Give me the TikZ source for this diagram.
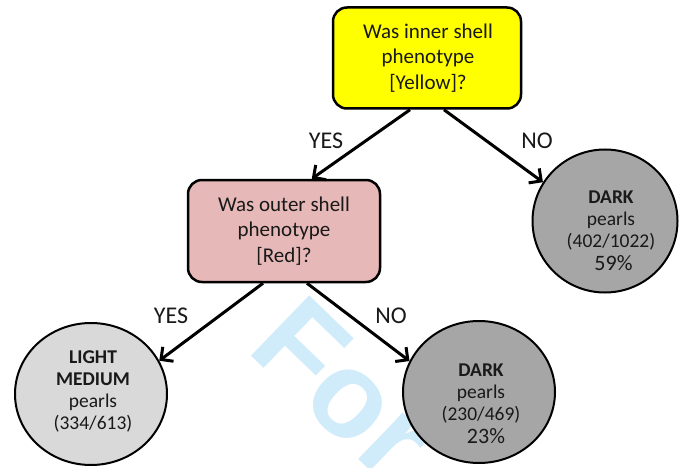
\documentclass[tikz,border=0pt]{standalone}
\usepackage{fontspec}
\setmainfont{Carlito}
\newfontfamily\wmfont{Liberation Sans}
\usetikzlibrary{arrows.meta,shapes.geometric}
\definecolor{boxyellow}{RGB}{255,255,0}
\definecolor{boxpink}{RGB}{230,184,183}
\definecolor{darkgrey}{RGB}{166,166,166}
\definecolor{lightgrey}{RGB}{217,217,217}
\definecolor{wmblue}{RGB}{208,236,250}
\definecolor{txt}{RGB}{25,25,25}
\tikzset{
  qbox/.style={draw=black, line width=2.5pt, rounded corners=14pt, minimum width=188pt, minimum height=101pt, inner sep=0pt},
  pearl/.style={draw=black, line width=2pt, ellipse, inner sep=0pt},
  qtext/.style={align=center, text=txt, font=\fontsize{21}{25.5}\selectfont},
  ptext/.style={align=center, text=txt, font=\fontsize{19.5}{22}\selectfont},
  lab/.style={text=txt, font=\fontsize{24}{26}\selectfont},
  conn/.style={line width=3pt, -{Straight Barb[length=9pt,width=18pt,line width=3pt]}},
}
\begin{document}
\begin{tikzpicture}[x=1pt,y=-1pt]
\useasboundingbox (0,0) rectangle (680,468);
\fill[white] (0,0) rectangle (680,468);
% watermark
\node[anchor=base west, rotate=-44, text=wmblue, inner sep=0pt, font=\wmfont\bfseries\fontsize{122}{122}\selectfont] (wm) at (245,350) {For};
% boxes
\node[qbox, fill=boxyellow] (yel) at (427,58) {};
\node[qtext] (yeltxt) at (428,58) {Was inner shell\\phenotype\\{}[Yellow]?};
\node[qbox, fill=boxpink, minimum width=192pt, minimum height=102pt] (pink) at (284,231) {};
\node[qtext] (pinktxt) at (284,231) {Was outer shell\\phenotype\\{}[Red]?};
% pearls
\node[pearl, fill=darkgrey, minimum width=145pt, minimum height=143pt] (rc) at (605,221) {};
\node[pearl, fill=lightgrey, minimum width=152pt, minimum height=142pt] (lc) at (91,394) {};
\node[pearl, fill=darkgrey, minimum width=152pt, minimum height=142pt] (mc) at (479,392) {};
\node[ptext] (rctxt) at (611,231) {\textbf{DARK}\\pearls\\(402/1022)\\[1pt]{\fontsize{22}{22}\selectfont\ 59\%}};
\node[ptext] (lctxt) at (93,391) {\textbf{LIGHT}\\\textbf{MEDIUM}\\pearls\\(334/613)};
\node[ptext] (mctxt) at (481,404) {\textbf{DARK}\\pearls\\(230/469)\\[1pt]{\fontsize{22}{22}\selectfont\ \ 23\%}};
% connectors
\draw[conn] ([xshift=-17pt]yel.south) -- (pink.62);
\draw[conn] ([xshift=17pt]yel.south) -- (rc.148);
\draw[conn] ([xshift=-21pt]pink.south) -- (lc.26);
\draw[conn] ([xshift=23pt]pink.south) -- (mc.156);
% labels
\node[lab] (yes1) at (326,141) {YES};
\node[lab] (no1) at (537,141) {NO};
\node[lab] (yes2) at (171,316) {YES};
\node[lab] (no2) at (391,316) {NO};
\end{tikzpicture}
\end{document}
